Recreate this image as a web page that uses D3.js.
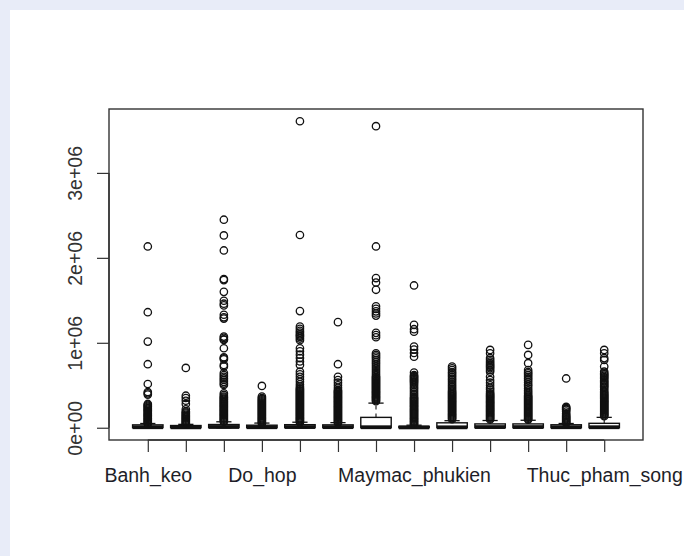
<!DOCTYPE html>
<html>
<head>
<meta charset="utf-8">
<script src="https://cdn.jsdelivr.net/npm/d3@7"></script>
<style>
body { margin: 0; background: #e8ecf8; }
svg { display: block; }
text { font-family: "Liberation Sans", Arial, sans-serif; }
</style>
</head>
<body>
<svg id="chart" width="684" height="556"></svg>
<script>
// values are in millions
var unit = 1e6;

// x tick labels (R drops the ones that would overlap)
var tickLabels = ["Banh_keo", "", "", "Do_hop", "", "", "", "Maymac_phukien", "", "", "", "", "Thuc_pham_song"];

var whiskerLow  = [0, 0, 0, 0, 0, 0, 0, 0, 0, 0, 0, 0, 0];
var q1          = [0.001, 0.001, 0.002, 0.001, 0.002, 0.002, 0.001, 0.001, 0.001, 0.001, 0.001, 0.001, 0.001];
var median      = [0.006, 0.005, 0.009, 0.006, 0.008, 0.007, 0.006, 0.004, 0.005, 0.008, 0.008, 0.006, 0.006];
var q3          = [0.034, 0.026, 0.038, 0.03, 0.036, 0.034, 0.122, 0.016, 0.058, 0.045, 0.045, 0.035, 0.052];
var whiskerHigh = [0.05, 0.04, 0.07, 0.055, 0.065, 0.06, 0.29, 0.03, 0.083, 0.085, 0.088, 0.05, 0.122];

var outliers = [
  [2.134, 1.36, 1.014, 0.748, 0.515, 0.42, 0.405, 0.39, 0.28, 0.269, 0.257, 0.246, 0.233, 0.222, 0.21, 0.199, 0.187, 0.174, 0.163, 0.151, 0.14, 0.128, 0.116, 0.105, 0.093, 0.082, 0.07, 0.058, 0.047],
  [0.704, 0.377, 0.35, 0.318, 0.28, 0.217, 0.19, 0.179, 0.167, 0.152, 0.141, 0.13, 0.118, 0.106, 0.095, 0.083, 0.071, 0.06, 0.048, 0.037],
  [2.449, 2.264, 2.087, 1.75, 1.738, 1.6, 1.495, 1.46, 1.44, 1.33, 1.3, 1.285, 1.073, 1.058, 1.042, 1.034, 0.936, 0.83, 0.818, 0.806, 0.74, 0.72, 0.645, 0.62, 0.6, 0.58, 0.562, 0.54, 0.52, 0.503, 0.405, 0.386, 0.366, 0.355, 0.342, 0.331, 0.318, 0.307, 0.295, 0.283, 0.272, 0.259, 0.248, 0.236, 0.224, 0.212, 0.2, 0.189, 0.177, 0.165, 0.153, 0.142, 0.13, 0.118, 0.106, 0.094, 0.083, 0.071],
  [0.492, 0.366, 0.35, 0.336, 0.323, 0.312, 0.3, 0.288, 0.276, 0.265, 0.252, 0.241, 0.229, 0.217, 0.205, 0.193, 0.182, 0.17, 0.158, 0.146, 0.134, 0.122, 0.111, 0.099, 0.087, 0.075, 0.063, 0.052],
  [3.608, 2.269, 1.373, 1.19, 1.165, 1.14, 1.12, 1.1, 1.085, 1.07, 1.05, 1.03, 0.936, 0.9, 0.86, 0.82, 0.78, 0.74, 0.66, 0.63, 0.6, 0.57, 0.54, 0.51, 0.484, 0.465, 0.453, 0.441, 0.43, 0.418, 0.406, 0.394, 0.382, 0.37, 0.359, 0.347, 0.335, 0.323, 0.311, 0.3, 0.288, 0.276, 0.264, 0.252, 0.241, 0.229, 0.217, 0.205, 0.193, 0.182, 0.17, 0.158, 0.146, 0.134, 0.122, 0.111, 0.099, 0.087, 0.075, 0.063],
  [1.243, 0.748, 0.6, 0.56, 0.53, 0.5, 0.47, 0.445, 0.433, 0.421, 0.41, 0.398, 0.386, 0.374, 0.362, 0.351, 0.339, 0.327, 0.315, 0.303, 0.292, 0.28, 0.268, 0.256, 0.244, 0.233, 0.221, 0.209, 0.197, 0.185, 0.174, 0.162, 0.15, 0.138, 0.126, 0.115, 0.103, 0.091, 0.079, 0.067, 0.056],
  [3.55, 2.134, 1.762, 1.71, 1.624, 1.43, 1.4, 1.37, 1.345, 1.32, 1.117, 1.09, 1.065, 0.877, 0.857, 0.837, 0.818, 0.795, 0.772, 0.75, 0.726, 0.703, 0.68, 0.656, 0.633, 0.61, 0.597, 0.585, 0.573, 0.561, 0.55, 0.538, 0.526, 0.514, 0.502, 0.49, 0.479, 0.467, 0.455, 0.443, 0.431, 0.42, 0.408, 0.396, 0.384, 0.372, 0.361, 0.349, 0.337, 0.325, 0.313],
  [1.675, 1.211, 1.16, 1.13, 0.955, 0.92, 0.88, 0.837, 0.649, 0.621, 0.607, 0.596, 0.583, 0.572, 0.559, 0.547, 0.536, 0.519, 0.501, 0.479, 0.462, 0.44, 0.421, 0.399, 0.381, 0.36, 0.348, 0.336, 0.323, 0.312, 0.3, 0.287, 0.276, 0.263, 0.252, 0.24, 0.227, 0.216, 0.204, 0.191, 0.18, 0.168, 0.155, 0.144, 0.132, 0.119, 0.108, 0.096, 0.083, 0.072, 0.06, 0.047, 0.036],
  [0.72, 0.7, 0.68, 0.655, 0.64, 0.619, 0.6, 0.579, 0.561, 0.54, 0.521, 0.499, 0.481, 0.46, 0.439, 0.425, 0.412, 0.4, 0.388, 0.376, 0.364, 0.352, 0.34, 0.328, 0.316, 0.304, 0.292, 0.28, 0.268, 0.256, 0.244, 0.232, 0.22, 0.208, 0.196, 0.184, 0.172, 0.16, 0.148, 0.136, 0.124, 0.112, 0.1],
  [0.916, 0.877, 0.82, 0.8, 0.78, 0.762, 0.745, 0.73, 0.715, 0.7, 0.68, 0.66, 0.6, 0.56, 0.53, 0.5, 0.47, 0.45, 0.425, 0.405, 0.393, 0.381, 0.37, 0.358, 0.346, 0.334, 0.322, 0.31, 0.298, 0.287, 0.275, 0.263, 0.251, 0.239, 0.227, 0.216, 0.204, 0.192, 0.18, 0.168, 0.156, 0.145, 0.133, 0.121, 0.109, 0.097],
  [0.975, 0.857, 0.76, 0.68, 0.655, 0.64, 0.62, 0.6, 0.58, 0.56, 0.535, 0.51, 0.49, 0.465, 0.44, 0.42, 0.4, 0.38, 0.368, 0.356, 0.344, 0.332, 0.32, 0.309, 0.297, 0.285, 0.273, 0.261, 0.249, 0.238, 0.226, 0.214, 0.202, 0.19, 0.178, 0.167, 0.155, 0.143, 0.131, 0.119, 0.107, 0.096],
  [0.58, 0.245, 0.233, 0.221, 0.21, 0.19, 0.168, 0.15, 0.135, 0.123, 0.111, 0.1, 0.088, 0.076, 0.064, 0.055],
  [0.916, 0.877, 0.82, 0.798, 0.72, 0.66, 0.64, 0.625, 0.61, 0.595, 0.58, 0.56, 0.545, 0.53, 0.515, 0.5, 0.485, 0.47, 0.45, 0.43, 0.415, 0.4, 0.388, 0.376, 0.364, 0.352, 0.34, 0.328, 0.316, 0.304, 0.292, 0.28, 0.268, 0.256, 0.244, 0.232, 0.22, 0.208, 0.196, 0.184, 0.172, 0.16, 0.148, 0.136]
];

var yTicks = [0, 1e6, 2e6, 3e6];
var yTickLabels = ["0e+00", "1e+06", "2e+06", "3e+06"];

var svg = d3.select("#chart");
var W = 684, H = 556;
var plot = {left: 109, top: 109, right: 643, bottom: 440};

// page: light blue strip on top / left, white card
svg.append("rect").attr("width", W).attr("height", H).attr("fill", "#e8ecf8");
svg.append("rect").attr("x", 10).attr("y", 10).attr("width", W - 10).attr("height", H - 10).attr("fill", "#fff");

var n = tickLabels.length;
var groups = d3.range(n).map(function(i) {
  return {
    pos: i + 1,
    lo: whiskerLow[i] * unit, q1: q1[i] * unit, med: median[i] * unit,
    q3: q3[i] * unit, hi: whiskerHigh[i] * unit,
    out: outliers[i].map(function(v) { return v * unit; })
  };
});

// R style 4% padding on both axes
var xPad = 0.04 * n;
var x = d3.scaleLinear().domain([0.5 - xPad, n + 0.5 + xPad]).range([plot.left, plot.right]);

var allVals = [];
groups.forEach(function(g) { allVals.push(g.lo, g.hi); allVals = allVals.concat(g.out); });
var yMin = d3.min(allVals), yMax = d3.max(allVals);
var yPad = 0.04 * (yMax - yMin);
var y = d3.scaleLinear().domain([yMin - yPad, yMax + yPad]).range([plot.bottom, plot.top]);

var boxW = 0.8 * (x(2) - x(1));
var stapleW = boxW / 2;
var ink = "#111";

var g = svg.selectAll("g.box")
  .data(groups)
  .join("g")
  .classed("box", true);

// whiskers (dashed)
g.append("line")
  .attr("x1", d => x(d.pos)).attr("x2", d => x(d.pos))
  .attr("y1", d => y(d.q3)).attr("y2", d => y(d.hi))
  .attr("stroke", ink).attr("stroke-width", 1.1).attr("stroke-dasharray", "4,4");
g.append("line")
  .attr("x1", d => x(d.pos)).attr("x2", d => x(d.pos))
  .attr("y1", d => y(d.q1)).attr("y2", d => y(d.lo))
  .attr("stroke", ink).attr("stroke-width", 1.1).attr("stroke-dasharray", "4,4");
// staples
g.selectAll("line.staple")
  .data(d => [d.lo, d.hi].map(v => ({pos: d.pos, v: v})))
  .join("line")
  .classed("staple", true)
  .attr("x1", d => x(d.pos) - stapleW / 2).attr("x2", d => x(d.pos) + stapleW / 2)
  .attr("y1", d => y(d.v)).attr("y2", d => y(d.v))
  .attr("stroke", ink).attr("stroke-width", 1.3);
// box
g.append("rect")
  .attr("x", d => x(d.pos) - boxW / 2)
  .attr("y", d => y(d.q3))
  .attr("width", boxW)
  .attr("height", d => y(d.q1) - y(d.q3))
  .attr("fill", "none").attr("stroke", ink).attr("stroke-width", 1.4);
// median
g.append("line")
  .attr("x1", d => x(d.pos) - boxW / 2).attr("x2", d => x(d.pos) + boxW / 2)
  .attr("y1", d => y(d.med)).attr("y2", d => y(d.med))
  .attr("stroke", ink).attr("stroke-width", 3.8);
// outliers
g.selectAll("circle")
  .data(d => d.out.map(v => ({pos: d.pos, v: v})))
  .join("circle")
  .attr("cx", d => x(d.pos))
  .attr("cy", d => y(d.v))
  .attr("r", 3.7)
  .attr("fill", "none")
  .attr("stroke", ink)
  .attr("stroke-width", 1.3);

// plot frame
svg.append("rect")
  .attr("x", plot.left).attr("y", plot.top)
  .attr("width", plot.right - plot.left).attr("height", plot.bottom - plot.top)
  .attr("fill", "none").attr("stroke", "#333").attr("stroke-width", 1.4);

// x axis
var xAxis = d3.axisBottom(x)
  .tickValues(groups.map(d => d.pos))
  .tickSize(12)
  .tickFormat((d, i) => tickLabels[i]);
var gx = svg.append("g")
  .attr("transform", "translate(0," + plot.bottom + ")")
  .call(xAxis);
gx.select(".domain").remove();
gx.append("line")
  .attr("x1", x(1)).attr("x2", x(n)).attr("y1", 0).attr("y2", 0)
  .attr("stroke", "#333").attr("stroke-width", 1.4);
gx.selectAll(".tick line").attr("stroke", "#333").attr("stroke-width", 1.2);
gx.selectAll(".tick text")
  .attr("y", 42).attr("dy", 0)
  .attr("fill", "#1e1e28")
  .style("font-size", "19.5px")
  .style("font-family", "'Liberation Sans', Arial, sans-serif");

// y axis
var yAxis = d3.axisLeft(y)
  .tickValues(yTicks)
  .tickSize(12)
  .tickFormat((d, i) => yTickLabels[i]);
var gy = svg.append("g")
  .attr("transform", "translate(" + plot.left + ",0)")
  .call(yAxis);
gy.select(".domain").remove();
gy.append("line")
  .attr("x1", 0).attr("x2", 0)
  .attr("y1", y(yTicks[0])).attr("y2", y(yTicks[yTicks.length - 1]))
  .attr("stroke", "#333").attr("stroke-width", 1.4);
gy.selectAll(".tick line").attr("stroke", "#333").attr("stroke-width", 1.2);
gy.selectAll(".tick text")
  .attr("transform", "rotate(-90)")
  .attr("x", 0).attr("y", -27.5).attr("dy", 0)
  .attr("text-anchor", "middle")
  .attr("fill", "#333")
  .style("font-size", "19.5px")
  .style("font-family", "'Liberation Sans', Arial, sans-serif");
</script>
</body>
</html>
